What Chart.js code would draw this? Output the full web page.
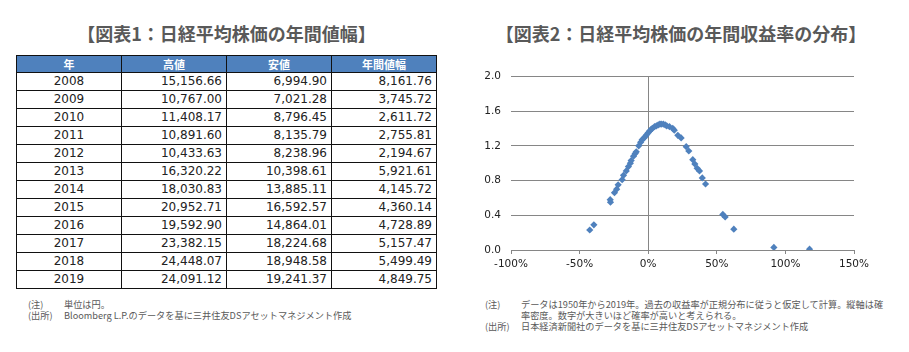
<!DOCTYPE html>
<html lang="ja">
<head>
<meta charset="utf-8">
<title>日経平均株価の年間値幅と年間収益率の分布</title>
<script src="https://cdn.jsdelivr.net/npm/chart.js"></script>
<style>
    body { margin: 0; width: 909px; height: 352px; background: #fff; position: relative; overflow: hidden;
           font-family: "Noto Sans CJK JP", "DejaVu Sans", sans-serif; }
    .title { position: absolute; top: 20px; font-size: 18px; font-weight: bold; color: #595959; white-space: nowrap; text-align: center; }
    #priceTable { position: absolute; left: 16px; top: 55px; width: 420px; border-collapse: collapse; table-layout: fixed; }
    #priceTable th, #priceTable td { border: 1px solid #111; padding: 0 4px; }
    #priceTable th { background: #4f81bd; color: #fff; font-size: 11px; font-weight: bold; height: 16px; line-height: 16px; text-align: center; }
    #priceTable td { font-family: "DejaVu Sans", sans-serif; font-size: 12px; color: #222; height: 17px; line-height: 17px; text-align: right; }
    #priceTable td.year { text-align: center; }
    .note { position: absolute; font-size: 9.2px; color: #595959; line-height: 11px; white-space: nowrap; }
    .note .lbl { display: inline-block; width: 36px; }
    .note .ind { padding-left: 36px; }
    #chartBox { position: absolute; left: 460px; top: 60px; width: 420px; height: 220px; }
</style>
</head>
<body>
<div class="title" style="left:0; width:453px">【図表1：日経平均株価の年間値幅】</div>
<div class="title" style="left:461px; width:440px">【図表2：日経平均株価の年間収益率の分布】</div>

<table id="priceTable">
    <colgroup><col style="width:105px"><col style="width:105px"><col style="width:105px"><col style="width:105px"></colgroup>
    <thead><tr id="headRow"></tr></thead>
    <tbody id="tableBody"></tbody>
</table>

<div class="note" style="left:28px; top:299px">
    <div><span class="lbl">(注)</span>単位は円。</div>
    <div><span class="lbl">(出所)</span>Bloomberg L.P.のデータを基に三井住友DSアセットマネジメント作成</div>
</div>
<div class="note" style="left:485px; top:299px">
    <div><span class="lbl">(注)</span>データは1950年から2019年。過去の収益率が正規分布に従うと仮定して計算。縦軸は確</div>
    <div class="ind">率密度。数字が大きいほど確率が高いと考えられる。</div>
    <div><span class="lbl">(出所)</span>日本経済新聞社のデータを基に三井住友DSアセットマネジメント作成</div>
</div>

<div id="chartBox"><canvas id="distChart" width="420" height="220"></canvas></div>

<script>
    // table data (図表1)
    const headers = ['年', '高値', '安値', '年間値幅'];
    const years = [2008, 2009, 2010, 2011, 2012, 2013, 2014, 2015, 2016, 2017, 2018, 2019];
    const highs = [15156.66, 10767.00, 11408.17, 10891.60, 10433.63, 16320.22, 18030.83, 20952.71, 19592.90, 23382.15, 24448.07, 24091.12];
    const lows = [6994.90, 7021.28, 8796.45, 8135.79, 8238.96, 10398.61, 13885.11, 16592.57, 14864.01, 18224.68, 18948.58, 19241.37];
    const ranges = [8161.76, 3745.72, 2611.72, 2755.81, 2194.67, 5921.61, 4145.72, 4360.14, 4728.89, 5157.47, 5499.49, 4849.75];

    // scatter data (図表2): annual return (%) and probability density
    const returns = [-42.6, -39.6, -27.7, -27.5, -24.6, -23.0, -21.9, -19.0, -18.0, -16.0, -14.4, -13.0, -12.4, -10.7, -9.5, -8.7, -6.9, -5.5, -4.4, -3.0, -2.0, -1.0, 0.0, 1.0, 2.2, 3.0, 4.6, 6.0, 7.3, 8.5, 9.5, 11.0, 12.4, 13.5, 15.5, 17.9, 19.0, 21.6, 24.0, 27.7, 29.6, 32.5, 34.0, 35.7, 37.4, 39.4, 41.8, 54.4, 56.1, 62.4, 91.6, 117.6];
    const density = [0.23, 0.29, 0.58, 0.55, 0.66, 0.70, 0.75, 0.81, 0.86, 0.91, 0.96, 1.00, 1.03, 1.08, 1.11, 1.13, 1.20, 1.24, 1.27, 1.29, 1.31, 1.33, 1.35, 1.37, 1.39, 1.40, 1.42, 1.43, 1.44, 1.45, 1.45, 1.45, 1.44, 1.43, 1.42, 1.40, 1.38, 1.32, 1.29, 1.19, 1.14, 1.04, 0.99, 0.94, 0.91, 0.83, 0.76, 0.41, 0.38, 0.24, 0.03, 0.01];
    const xTicks = [-100, -50, 0, 50, 100, 150];
    const yTicks = [0, 0.4, 0.8, 1.2, 1.6, 2.0];

    const fmt = v => v.toLocaleString('en-US', { minimumFractionDigits: 2, maximumFractionDigits: 2 });

    document.getElementById('headRow').innerHTML = headers.map(h => `<th>${h}</th>`).join('');
    document.getElementById('tableBody').innerHTML = years.map((y, i) =>
        `<tr><td class="year">${y}</td><td>${fmt(highs[i])}</td><td>${fmt(lows[i])}</td><td>${fmt(ranges[i])}</td></tr>`
    ).join('');

    const axisGray = '#868686';
    const tickFont = { family: 'DejaVu Sans', size: 10.5 };

    new Chart(document.getElementById('distChart'), {
        type: 'scatter',
        data: {
            datasets: [{
                data: returns.map((r, i) => ({ x: r, y: density[i] })),
                pointStyle: 'rectRot',
                pointRadius: 3.6,
                pointHoverRadius: 3.6,
                backgroundColor: '#4f81bd',
                borderColor: '#4f81bd',
                borderWidth: 0
            }]
        },
        options: {
            responsive: false,
            animation: false,
            layout: { padding: { top: 13, right: 26, left: 0, bottom: 0 } },
            plugins: { legend: { display: false }, tooltip: { enabled: false } },
            scales: {
                x: {
                    type: 'linear',
                    min: -100,
                    max: 150,
                    afterBuildTicks: s => { s.ticks = xTicks.map(v => ({ value: v })); },
                    afterFit: s => { s.height = 30; },
                    ticks: { color: '#222', font: tickFont, padding: 4, maxRotation: 0, callback: v => v + '%' },
                    grid: {
                        color: c => c.tick && c.tick.value === 0 ? axisGray : 'rgba(0,0,0,0)',
                        tickColor: axisGray,
                        tickLength: 4,
                        lineWidth: 1
                    },
                    border: { display: true, color: axisGray }
                },
                y: {
                    min: 0,
                    max: 2,
                    afterBuildTicks: s => { s.ticks = yTicks.map(v => ({ value: v })); },
                    afterFit: s => { s.width = 51; },
                    ticks: { color: '#222', font: tickFont, padding: 10, callback: v => v.toFixed(1) },
                    grid: { color: axisGray, drawTicks: false },
                    border: { display: false }
                }
            }
        }
    });
</script>
</body>
</html>
